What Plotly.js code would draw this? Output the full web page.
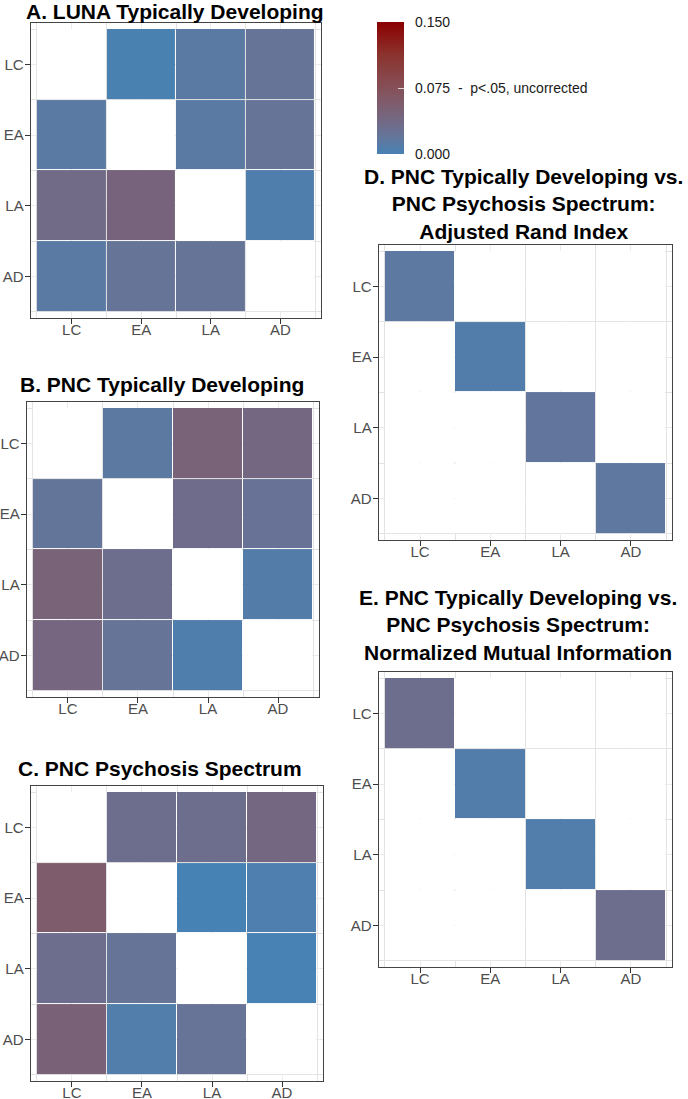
<!DOCTYPE html>
<html>
<head>
<meta charset="utf-8">
<script src="https://cdn.plot.ly/plotly-3.0.1.min.js"></script>
<style>html,body{margin:0;padding:0;background:#fff;}#chart{width:688px;height:1099px;}</style>
</head>
<body>
<div id="chart"></div>
<script>
// ---- data ----
const categories = ['LC', 'EA', 'LA', 'AD'];

// rows = y category (LC, EA, LA, AD from top), cols = x category
const lunaTD = [
  [null, 0.002, 0.013, 0.022],
  [0.013, null, 0.013, 0.022],
  [0.035, 0.045, null, 0.006],
  [0.013, 0.022, 0.022, null]
];
const pncTD = [
  [null, 0.014, 0.047, 0.040],
  [0.020, null, 0.033, 0.024],
  [0.047, 0.030, null, 0.009],
  [0.042, 0.022, 0.006, null]
];
const pncPS = [
  [null, 0.030, 0.030, 0.040],
  [0.058, null, 0.000, 0.005],
  [0.030, 0.022, null, 0.001],
  [0.048, 0.007, 0.023, null]
];
const ariDiag = [0.015, 0.008, 0.018, 0.016];
const nmiDiag = [0.030, 0.008, 0.007, 0.030];

const panelTitles = [
  'A. LUNA Typically Developing',
  'B. PNC Typically Developing',
  'C. PNC Psychosis Spectrum',
  'D. PNC Typically Developing vs.<br>PNC Psychosis Spectrum:<br>Adjusted Rand Index',
  'E. PNC Typically Developing vs.<br>PNC Psychosis Spectrum:<br>Normalized Mutual Information'
];

const colorTickVals = [0, 0.075, 0.15];
const colorTickText = ['0.000', '0.075  -  p<.05, uncorrected', '0.150'];
const colorMin = 0, colorMax = 0.15;

// ---- build ----
function diagMatrix(d) {
  return d.map((v, i) => d.map((_, j) => (i === j ? v : null)));
}
const matrices = [lunaTD, pncTD, pncPS, diagMatrix(ariDiag), diagMatrix(nmiDiag)];

// panel placement (pixels -> paper fractions)
const W = 688, H = 1099;
const boxes = [
  {l: 31, r: 321, t: 23, b: 318},
  {l: 27, r: 319, t: 402, b: 697},
  {l: 31, r: 323, t: 786, b: 1081},
  {l: 379, r: 672, t: 245, b: 540},
  {l: 379, r: 672, t: 672, b: 967}
];
const titlePos = [
  {x: 175, y: 12},
  {x: 162, y: 384},
  {x: 160, y: 768},
  {x: 523, y: 204},
  {x: 518, y: 625}
];

const idx = categories.map((_, i) => i);
const pad = 0.085;
const traces = [];
const fam = 'Liberation Sans, Arial, sans-serif';
const layout = {
  width: W, height: H,
  margin: {l: 0, r: 0, t: 0, b: 0},
  paper_bgcolor: '#ffffff',
  plot_bgcolor: '#ffffff',
  showlegend: false,
  font: {family: fam, color: '#4d4d4d'},
  coloraxis: {
    cmin: colorMin, cmax: colorMax,
    colorscale: [
      [0.000, 'rgb(70,130,180)'],
      [0.125, 'rgb(99,118,156)'],
      [0.250, 'rgb(115,105,133)'],
      [0.375, 'rgb(126,93,110)'],
      [0.500, 'rgb(133,80,88)'],
      [0.750, 'rgb(139,51,46)'],
      [1.000, 'rgb(139,0,0)']
    ],
    colorbar: {
      x: 377 / W, xanchor: 'left', xref: 'paper',
      y: 1 - 88 / H, yanchor: 'middle', yref: 'paper',
      thickness: 27, thicknessmode: 'pixels',
      len: 132, lenmode: 'pixels',
      xpad: 0, ypad: 0,
      outlinewidth: 0,
      tickmode: 'array', tickvals: colorTickVals,
      ticktext: colorTickText.map(t => '\u00a0\u00a0' + t),
      ticks: 'inside', ticklen: 6, tickwidth: 1, tickcolor: 'rgba(255,255,255,0.75)',
      tickfont: {size: 14, color: '#1a1a1a', family: fam}
    }
  },
  annotations: []
};

matrices.forEach((m, k) => {
  const n = k === 0 ? '' : String(k + 1);
  const xa = 'x' + n, ya = 'y' + n;
  const b = boxes[k];
  const blank = m.map(row => row.map(v => (v === null ? 1 : null)));
  traces.push({
    type: 'heatmap', x: idx, y: idx, z: blank,
    xaxis: xa, yaxis: ya,
    colorscale: [[0, '#ffffff'], [1, '#ffffff']], showscale: false,
    xgap: 1, ygap: 1, hoverinfo: 'skip'
  });
  traces.push({
    type: 'heatmap', x: idx, y: idx, z: m,
    xaxis: xa, yaxis: ya,
    coloraxis: 'coloraxis',
    xgap: 1, ygap: 1
  });
  const common = {
    tickmode: 'array', tickvals: idx, ticktext: categories,
    ticks: 'outside', ticklen: 5, tickwidth: 1, tickcolor: '#333333',
    tickfont: {size: 15, color: '#4d4d4d'},
    showline: true, mirror: true, linecolor: '#444444', linewidth: 1.3,
    showgrid: true, gridcolor: '#ebebeb', gridwidth: 1,
    zeroline: false, fixedrange: true,
    minor: {tickmode: 'linear', tick0: 0.5, dtick: 1, showgrid: true, gridcolor: '#e3e3e3', gridwidth: 1, ticks: ''}
  };
  layout['xaxis' + n] = Object.assign({}, common, {
    domain: [b.l / W, b.r / W],
    range: [-0.5 - pad, categories.length - 0.5 + pad],
    ticklabelstandoff: -7,
    anchor: ya
  });
  layout['yaxis' + n] = Object.assign({}, common, {
    domain: [1 - b.b / H, 1 - b.t / H],
    range: [categories.length - 0.5 + pad, -0.5 - pad],
    ticklabelstandoff: -2,
    anchor: xa
  });
  layout.annotations.push({
    text: '<b>' + panelTitles[k] + '</b>',
    xref: 'paper', yref: 'paper',
    x: titlePos[k].x / W, y: 1 - titlePos[k].y / H,
    xanchor: 'center', yanchor: 'middle', align: 'center',
    showarrow: false,
    font: {size: 21, color: '#000000', family: fam}
  });
});

Plotly.newPlot('chart', traces, layout, {displayModeBar: false, staticPlot: true});
</script>
</body>
</html>
